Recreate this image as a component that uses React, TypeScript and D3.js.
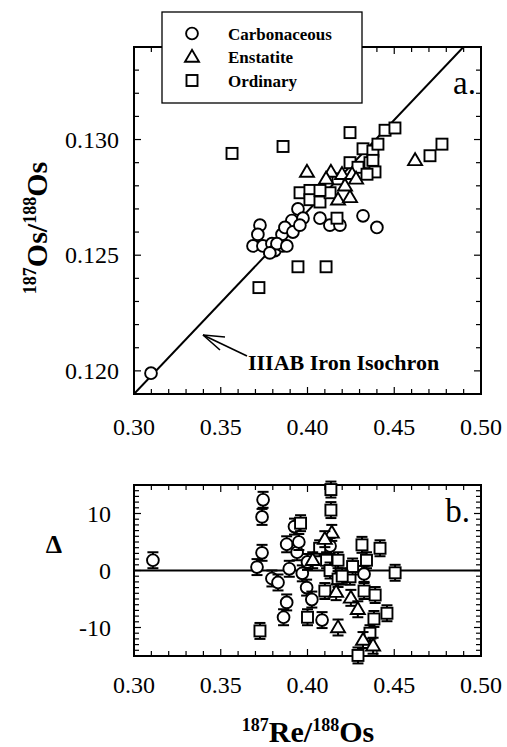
import React from "react";
import * as d3 from "d3";

// ---------- data ----------
// Top panel: 187Re/188Os (x) vs 187Os/188Os (y)
const carbTopX = [0.3098, 0.3726, 0.3714, 0.3686, 0.3743, 0.3795, 0.3812, 0.3858, 0.3853, 0.3824, 0.3881, 0.3783, 0.3945, 0.3910, 0.3870, 0.3974, 0.4072, 0.4129, 0.4187, 0.4320, 0.4400, 0.3916, 0.3956];
const carbTopY = [0.1199, 0.1263, 0.1259, 0.1254, 0.1254, 0.1255, 0.1252, 0.1254, 0.1259, 0.1255, 0.1254, 0.1251, 0.1270, 0.1265, 0.1262, 0.1266, 0.1266, 0.1263, 0.1263, 0.1267, 0.1262, 0.1260, 0.1263];

const ordTopX = [0.3565, 0.3720, 0.3859, 0.3945, 0.4107, 0.3957, 0.4014, 0.4014, 0.4072, 0.4130, 0.4176, 0.4170, 0.4245, 0.4291, 0.4245, 0.4320, 0.4377, 0.4360, 0.4389, 0.4343, 0.4406, 0.4377, 0.4447, 0.4504, 0.4706, 0.4775, 0.4072];
const ordTopY = [0.1294, 0.1236, 0.1297, 0.1245, 0.1245, 0.1277, 0.1278, 0.1274, 0.1273, 0.1277, 0.1283, 0.1266, 0.1290, 0.1288, 0.1303, 0.1296, 0.1295, 0.1290, 0.1286, 0.1285, 0.1298, 0.1291, 0.1304, 0.1305, 0.1293, 0.1298, 0.1278];

const enstTopX = [0.3997, 0.4135, 0.4199, 0.4176, 0.4245, 0.4620, 0.4107, 0.4257, 0.4280, 0.4216];
const enstTopY = [0.1286, 0.1286, 0.1285, 0.1274, 0.1275, 0.1291, 0.1283, 0.1285, 0.1283, 0.1280];

// Bottom panel: 187Re/188Os (x) vs Delta (y)
const carbBotX = [0.3109, 0.3709, 0.3738, 0.3738, 0.3744, 0.3795, 0.3830, 0.3880, 0.3862, 0.3880, 0.3895, 0.3925, 0.3940, 0.3970, 0.3995, 0.4025, 0.4084, 0.4130, 0.4326, 0.4000, 0.3950];
const carbBotY = [1.8, 0.6, 3.1, 9.4, 12.4, -1.4, -2.1, -5.6, -8.2, 4.6, 0.3, 7.7, 3.2, -0.5, -3.0, -5.1, -8.7, 4.3, -0.6, 1.5, 5.0];

const ordBotX = [0.3726, 0.4135, 0.4135, 0.3960, 0.4070, 0.4110, 0.4130, 0.4176, 0.4176, 0.4100, 0.4000, 0.4245, 0.4260, 0.4314, 0.4340, 0.4326, 0.4390, 0.4418, 0.4505, 0.4458, 0.4383, 0.4360, 0.4291, 0.4200];
const ordBotY = [-10.6, 14.2, 10.6, 8.3, 3.9, 1.8, 0.0, 1.8, -1.5, -3.6, -8.2, -1.1, 0.7, 4.5, 1.8, -3.6, -4.3, 3.9, -0.4, -7.5, -8.5, -11.0, -14.9, -1.0];

const enstBotX = [0.4140, 0.4176, 0.4250, 0.4290, 0.4320, 0.4378, 0.4100, 0.4030, 0.4165];
const enstBotY = [6.6, -10.0, -4.8, -6.8, -12.2, -13.2, 5.5, 1.8, -3.8];

const deltaErr = 1.4;

// IIIAB iron isochron
const isoIntercept = 0.0953;
const isoSlope = 0.079;

const xTickLabels = [0.30, 0.35, 0.40, 0.45, 0.50];
const yTopTickLabels = [0.120, 0.125, 0.130];
const yBotTickLabels = [-10, 0, 10];

const legendLabels = ["Carbonaceous", "Enstatite", "Ordinary"];

// ---------- layout ----------
const W = 507;
const H = 747;
const L = 134;
const R = 481;
const T1 = 47;
const B1 = 394;
const T2 = 485;
const B2 = 656;

const SERIF = "'Liberation Serif', 'Times New Roman', serif";

const x = d3.scaleLinear().domain([0.30, 0.50]).range([L, R]);
const yTop = d3.scaleLinear().domain([0.119, 0.134]).range([B1, T1]);
const yBot = d3.scaleLinear().domain([-15, 15]).range([B2, T2]);

type Kind = "circle" | "square" | "triangle";

function Marker({ kind, cx, cy }: { kind: Kind; cx: number; cy: number }) {
  const sw = 1.9;
  if (kind === "circle") {
    return <circle cx={cx} cy={cy} r={5.9} fill="white" stroke="black" strokeWidth={sw} />;
  }
  if (kind === "square") {
    const s = 11;
    return <rect x={cx - s / 2} y={cy - s / 2} width={s} height={s} fill="white" stroke="black" strokeWidth={sw} />;
  }
  const a = 14;
  const h = a * 0.85;
  const pts = `${cx},${cy - h * 0.6} ${cx - a / 2},${cy + h * 0.4} ${cx + a / 2},${cy + h * 0.4}`;
  return <polygon points={pts} fill="white" stroke="black" strokeWidth={sw} strokeLinejoin="miter" />;
}

function Frame({ top, bottom, yTicks, yMajor, yScale }: { top: number; bottom: number; yTicks: number[]; yMajor: number[]; yScale: any }) {
  const xTicks = x.ticks(20);
  const isMajorX = (v: number) => xTickLabels.some((m) => Math.abs(m - v) < 1e-9);
  const isMajorY = (v: number) => yMajor.some((m) => Math.abs(m - v) < 1e-9);
  return (
    <g stroke="black">
      {xTicks.map((v, i) => {
        const len = isMajorX(v) ? 7 : 5;
        return (
          <g key={"xt" + i} strokeWidth={1.2}>
            <line x1={x(v)} x2={x(v)} y1={bottom} y2={bottom - len} />
            <line x1={x(v)} x2={x(v)} y1={top} y2={top + len} />
          </g>
        );
      })}
      {yTicks.map((v, i) => {
        const len = isMajorY(v) ? 7 : 5;
        return (
          <g key={"yt" + i} strokeWidth={1.2}>
            <line x1={L} x2={L + len} y1={yScale(v)} y2={yScale(v)} />
            <line x1={R} x2={R - len} y1={yScale(v)} y2={yScale(v)} />
          </g>
        );
      })}
      <rect x={L} y={top} width={R - L} height={bottom - top} fill="none" strokeWidth={2} />
    </g>
  );
}

export default function App() {
  const isoX1 = 0.30;
  const isoX2 = (0.134 - isoIntercept) / isoSlope;
  const isoLine = d3.line<number>().x((d) => x(d)).y((d) => yTop(isoIntercept + isoSlope * d))([isoX1, isoX2]) || "";

  const topSeries: { kind: Kind; xs: number[]; ys: number[] }[] = [
    { kind: "circle", xs: carbTopX, ys: carbTopY },
    { kind: "square", xs: ordTopX, ys: ordTopY },
    { kind: "triangle", xs: enstTopX, ys: enstTopY },
  ];
  const botSeries: { kind: Kind; xs: number[]; ys: number[] }[] = [
    { kind: "circle", xs: carbBotX, ys: carbBotY },
    { kind: "square", xs: ordBotX, ys: ordBotY },
    { kind: "triangle", xs: enstBotX, ys: enstBotY },
  ];

  const fmtX = d3.format(".2f");
  const fmtYTop = d3.format(".3f");

  return (
    <svg width={W} height={H} style={{ display: "block", position: "absolute", left: 0, top: 0, background: "white" }} fontFamily={SERIF}>
      <rect x={0} y={0} width={W} height={H} fill="white" />
      <defs>
        <clipPath id="clipTop">
          <rect x={L} y={T1} width={R - L} height={B1 - T1} />
        </clipPath>
      </defs>

      {/* ---------- top panel ---------- */}
      <Frame top={T1} bottom={B1} yTicks={yTop.ticks(15)} yMajor={yTopTickLabels} yScale={yTop} />
      <path d={isoLine} stroke="black" strokeWidth={2} fill="none" clipPath="url(#clipTop)" />

      {topSeries.map((s) =>
        s.xs.map((v, i) => <Marker key={s.kind + "t" + i} kind={s.kind} cx={x(v)} cy={yTop(s.ys[i])} />)
      )}

      {/* isochron annotation */}
      <g stroke="black" strokeWidth={1.6} fill="none">
        <line x1={247} y1={356} x2={203} y2={335} />
        <line x1={203} y1={335} x2={225} y2={337} />
        <line x1={203} y1={335} x2={220} y2={350} />
      </g>
      <text x={248} y={370} fontSize={22} fontWeight="bold">IIIAB Iron Isochron</text>

      <text x={476} y={94} fontSize={33} textAnchor="end">a.</text>

      {/* legend */}
      <rect x={162} y={12} width={200} height={91} fill="white" stroke="black" strokeWidth={1.3} />
      {legendLabels.map((lab, i) => {
        const kinds: Kind[] = ["circle", "triangle", "square"];
        const cy = 33.5 + i * 23.5;
        return (
          <g key={lab}>
            <Marker kind={kinds[i]} cx={192} cy={cy} />
            <text x={228} y={cy + 6} fontSize={17} fontWeight="bold">{lab}</text>
          </g>
        );
      })}

      {/* top axes labels */}
      {xTickLabels.map((v) => (
        <text key={"xl1" + v} x={x(v)} y={435} fontSize={24} textAnchor="middle">{fmtX(v)}</text>
      ))}
      {yTopTickLabels.map((v) => (
        <text key={"yl1" + v} x={119} y={yTop(v) + 8} fontSize={24} textAnchor="end">{fmtYTop(v)}</text>
      ))}
      <text transform="translate(47,228) rotate(-90)" fontSize={30} fontWeight="bold" textAnchor="middle">
        <tspan fontSize={18} dy={-11}>187</tspan>
        <tspan dy={11}>Os/</tspan>
        <tspan fontSize={18} dy={-11}>188</tspan>
        <tspan dy={11}>Os</tspan>
      </text>

      {/* ---------- bottom panel ---------- */}
      <Frame top={T2} bottom={B2} yTicks={yBot.ticks(30)} yMajor={yBotTickLabels} yScale={yBot} />
      <line x1={L} x2={R} y1={yBot(0)} y2={yBot(0)} stroke="black" strokeWidth={2} />

      {botSeries.map((s) =>
        s.xs.map((v, i) => {
          const cx = x(v);
          const y0 = yBot(s.ys[i] - deltaErr);
          const y1 = yBot(s.ys[i] + deltaErr);
          return (
            <g key={s.kind + "b" + i}>
              <g stroke="black" strokeWidth={2}>
                <line x1={cx} x2={cx} y1={y0} y2={y1} />
                <line x1={cx - 5.5} x2={cx + 5.5} y1={y0} y2={y0} />
                <line x1={cx - 5.5} x2={cx + 5.5} y1={y1} y2={y1} />
              </g>
              <Marker kind={s.kind} cx={cx} cy={yBot(s.ys[i])} />
            </g>
          );
        })
      )}

      <text x={470} y={522} fontSize={33} textAnchor="end">b.</text>

      {xTickLabels.map((v) => (
        <text key={"xl2" + v} x={x(v)} y={693} fontSize={24} textAnchor="middle">{fmtX(v)}</text>
      ))}
      {yBotTickLabels.map((v) => (
        <text key={"yl2" + v} x={111} y={yBot(v) + 8} fontSize={24} textAnchor="end">{v}</text>
      ))}
      <text x={54} y={553} fontSize={26} fontWeight="bold" textAnchor="middle">Δ</text>

      <text x={308} y={742} fontSize={30} fontWeight="bold" textAnchor="middle">
        <tspan fontSize={18} dy={-11}>187</tspan>
        <tspan dy={11}>Re/</tspan>
        <tspan fontSize={18} dy={-11}>188</tspan>
        <tspan dy={11}>Os</tspan>
      </text>
    </svg>
  );
}
